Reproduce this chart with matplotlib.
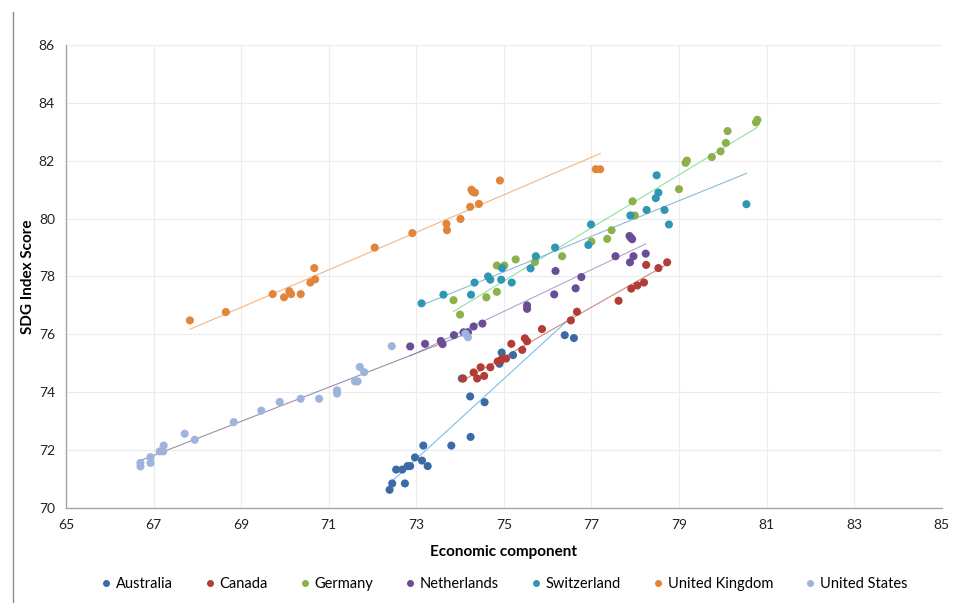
import numpy as np
import matplotlib
matplotlib.use("Agg")
import matplotlib.pyplot as plt
from matplotlib.lines import Line2D

plt.rcParams["font.family"] = ["Lato", "DejaVu Sans"]

# Economic component (x) and SDG Index Score (y) per country
aus_x = [72.39, 72.45, 72.74, 72.54, 72.68, 72.80, 72.86, 72.97, 73.13, 73.26, 73.16,
         73.80, 74.24, 74.23, 74.56, 74.04, 74.90, 74.95, 75.21, 76.39, 76.60]
aus_y = [70.62, 70.84, 70.84, 71.32, 71.32, 71.44, 71.44, 71.74, 71.63, 71.44, 72.15,
         72.15, 72.45, 73.85, 73.65, 74.47, 74.98, 75.37, 75.28, 75.97, 75.87]

can_x = [74.07, 74.31, 74.39, 74.47, 74.55, 74.69, 74.86, 74.92, 74.96, 75.05, 75.17,
         75.42, 75.48, 75.53, 75.87, 76.53, 76.67, 77.62, 77.91, 78.05, 78.20, 78.25,
         78.53, 78.73]
can_y = [74.47, 74.68, 74.47, 74.86, 74.56, 74.86, 75.06, 75.09, 75.15, 75.16, 75.67,
         75.46, 75.86, 75.76, 76.18, 76.48, 76.78, 77.16, 77.58, 77.69, 77.79, 78.40,
         78.29, 78.49]

ger_x = [73.85, 74.00, 74.60, 74.84, 74.84, 75.01, 75.27, 75.71, 76.33, 77.00, 77.36,
         77.46, 77.94, 77.99, 79.00, 79.15, 79.18, 79.75, 79.95, 80.07, 80.11, 80.76,
         80.79]
ger_y = [77.18, 76.68, 77.28, 77.47, 78.38, 78.38, 78.59, 78.50, 78.70, 79.21, 79.30,
         79.60, 80.60, 80.11, 81.02, 81.93, 82.01, 82.13, 82.33, 82.62, 83.03, 83.33,
         83.42]

ned_x = [72.86, 73.20, 73.56, 73.60, 73.86, 74.08, 74.18, 74.31, 74.51, 75.53, 75.53,
         76.15, 76.18, 76.64, 76.77, 77.55, 77.88, 77.96, 78.24, 77.87, 77.90, 77.93]
ned_y = [75.58, 75.67, 75.77, 75.66, 75.97, 76.07, 76.07, 76.27, 76.37, 77.00, 76.88,
         77.38, 78.19, 77.59, 77.98, 78.70, 78.49, 78.70, 78.79, 79.40, 79.34, 79.29]

sui_x = [73.12, 73.62, 74.25, 74.33, 74.64, 74.69, 74.94, 74.96, 75.18, 75.61, 75.73,
         76.17, 76.93, 76.99, 77.89, 78.26, 78.67, 78.77, 78.47, 78.53, 78.49, 80.54]
sui_y = [77.07, 77.37, 77.37, 77.79, 78.00, 77.89, 77.89, 78.29, 77.79, 78.28, 78.70,
         79.00, 79.09, 79.80, 80.11, 80.30, 80.30, 79.80, 80.71, 80.90, 81.50, 80.50]

uk_x = [67.83, 68.65, 69.72, 69.98, 70.10, 70.14, 70.36, 70.58, 70.69, 70.67, 72.05,
        72.91, 73.69, 73.70, 74.01, 74.23, 74.43, 74.26, 74.29, 74.34, 74.91, 77.10,
        77.20]
uk_y = [76.48, 76.77, 77.39, 77.28, 77.49, 77.39, 77.39, 77.79, 77.90, 78.29, 79.00,
        79.50, 79.82, 79.60, 79.99, 80.41, 80.51, 81.00, 80.93, 80.90, 81.32, 81.71,
        81.71]

us_x = [66.70, 66.70, 66.93, 66.93, 67.14, 67.22, 67.23, 67.71, 67.94, 68.83, 69.46,
        69.88, 70.36, 70.78, 71.19, 71.19, 71.60, 71.66, 71.71, 71.81, 72.44, 74.12,
        74.18]
us_y = [71.55, 71.43, 71.75, 71.55, 71.95, 71.95, 72.15, 72.56, 72.35, 72.96, 73.36,
        73.66, 73.77, 73.77, 74.06, 73.95, 74.37, 74.37, 74.87, 74.69, 75.59, 76.02,
        75.90]

names = ["Australia", "Canada", "Germany", "Netherlands", "Switzerland",
         "United Kingdom", "United States"]
xs = [aus_x, can_x, ger_x, ned_x, sui_x, uk_x, us_x]
ys = [aus_y, can_y, ger_y, ned_y, sui_y, uk_y, us_y]
colors = ["#3c6aa6", "#b23c36", "#8cb04a", "#6a4d95", "#2f97b2", "#e0853a", "#9db4dd"]
trend_colors = ["#62b4e6", "#c5716a", "#7bdc95", "#a893c6", "#7aaed0", "#f4a86a", "#8a7a9c"]

fig = plt.figure(figsize=(9.57, 6.03), dpi=100)
ax = fig.add_axes([0.069, 0.158, 0.915, 0.767])

for x, y, c, tc, n in zip(xs, ys, colors, trend_colors, names):
    ax.scatter(x, y, s=34, color=c, edgecolors="none", zorder=3, label=n)
    # linear trendline
    k, b = np.polyfit(x, y, 1)
    tx = np.array([min(x), max(x)])
    ax.plot(tx, k * tx + b, color=tc, linewidth=0.8, alpha=0.85, zorder=2)

ax.set_xlim(65, 85)
ax.set_ylim(70, 86)
ax.set_xticks(np.arange(65, 86, 2))
ax.set_yticks(np.arange(70, 87, 2))
ax.grid(True, color="#ececec", linewidth=0.8)
ax.set_axisbelow(True)
for s in ["top", "right"]:
    ax.spines[s].set_visible(False)
for s in ["left", "bottom"]:
    ax.spines[s].set_color("#a6a6a6")
    ax.spines[s].set_linewidth(1.0)
ax.tick_params(length=0, labelsize=10, colors="#222222", pad=8)

ax.set_xlabel("Economic component", fontsize=11, fontweight="bold", labelpad=10)
ax.set_ylabel("SDG Index Score", fontsize=11, fontweight="bold", labelpad=3)

# left border of chart area
fig.add_artist(Line2D([0.0136, 0.0136], [0.0, 0.98], color="#8c8c8c", linewidth=1.0))

handles = [Line2D([], [], marker="o", linestyle="", markersize=4, color=c) for c in colors]
fig.legend(handles, names, loc="lower center", ncol=7, frameon=False,
           bbox_to_anchor=(0.525, -0.002), fontsize=10.5, handletextpad=0.05,
           handlelength=1.2, columnspacing=1.95)

fig.savefig("out.png", dpi=100)
